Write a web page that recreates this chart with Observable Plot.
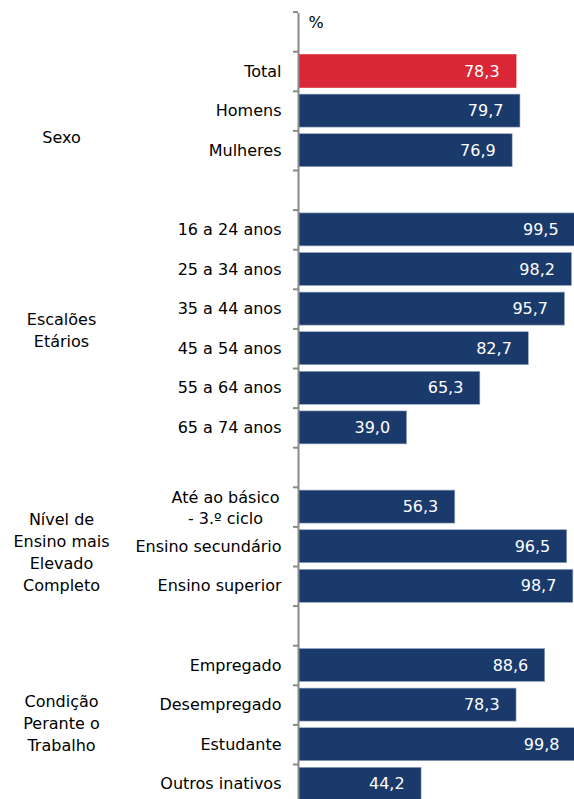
<!DOCTYPE html>
<html>
<head>
<meta charset="utf-8">
<script src="https://cdn.jsdelivr.net/npm/d3@7"></script>
<script src="https://cdn.jsdelivr.net/npm/@observablehq/plot@0.6"></script>
<style>
  html, body { margin: 0; padding: 0; background: white; overflow: hidden; }
</style>
</head>
<body>
<div id="chart"></div>
<script>
// ---- data ----
const categories = [
  "Total", "Homens", "Mulheres",
  "16 a 24 anos", "25 a 34 anos", "35 a 44 anos", "45 a 54 anos", "55 a 64 anos", "65 a 74 anos",
  "Até ao básico\n- 3.º ciclo", "Ensino secundário", "Ensino superior",
  "Empregado", "Desempregado", "Estudante", "Outros inativos"
];
const values = [78.3, 79.7, 76.9, 99.5, 98.2, 95.7, 82.7, 65.3, 39.0, 56.3, 96.5, 98.7, 88.6, 78.3, 99.8, 44.2];
const groupOf = [0, 0, 0, 1, 1, 1, 1, 1, 1, 2, 2, 2, 3, 3, 3, 3];
const groups = ["Sexo", "Escalões\nEtários", "Nível de\nEnsino mais\nElevado\nCompleto", "Condição\nPerante o\nTrabalho"];
const unitLabel = "%";

// ---- build slots (header + rows + blank gaps between groups) ----
const slots = ["__header"];
categories.forEach((c, i) => {
  if (i > 0 && groupOf[i] !== groupOf[i - 1]) slots.push("__gap" + groupOf[i]);
  slots.push(c);
});
const rows = categories.map((c, i) => ({key: c, value: values[i], group: groupOf[i], idx: i}));

const RED = "#DA2738", BLUE = "#1B3A6C", AXIS = "#8a8a8a";
const yTop = 11.6, bw = 39.6;
const fmt = v => d3.format(".1f")(v).replace(".", ",");

// group label marks: centered on the group's rows, small per-group nudges
const nudge = [25, 0.5, 4.5, -2.5];
const groupMarks = groups.map((g, gi) => {
  const members = rows.filter(r => r.group === gi);
  const dy = (members.length - 1) / 2 * bw + nudge[gi];
  return Plot.text([g], {
    x: () => 0, y: () => members[0].key, text: d => d,
    dx: -237, dy, textAnchor: "middle", lineHeight: 1.375, fill: "black"
  });
});

const chart = Plot.plot({
  width: 574,
  height: 799,
  marginLeft: 298,
  marginRight: 0,
  marginTop: 13,
  marginBottom: 0,
  x: {domain: [0, 100], range: [298, 576.5], axis: null},
  y: {domain: slots, range: [yTop, yTop + slots.length * bw], padding: 0, round: false, axis: null},
  style: {fontFamily: "'DejaVu Sans', Verdana, sans-serif", fontSize: "16px", background: "white", color: "black"},
  marks: [
    Plot.barX(rows, {
      x: "value", y: "key",
      fill: d => d.idx === 0 ? RED : BLUE,
      stroke: d => d.idx === 0 ? RED : "#9aabc4", strokeWidth: 0.6,
      insetTop: 3.3, insetBottom: 3.3, clip: true
    }),
    Plot.text(rows, {
      x: "value", y: "key", text: d => fmt(d.value),
      fill: "white", textAnchor: "end", dx: -17
    }),
    // category labels (single line, right aligned)
    Plot.text(rows.filter(r => !r.key.includes("\n")), {
      x: () => 0, y: "key", text: "key", textAnchor: "end", dx: -17, fill: "black"
    }),
    // wrapped category label (centered lines)
    Plot.text(rows.filter(r => r.key.includes("\n")), {
      x: () => 0, y: "key", text: "key", textAnchor: "middle", dx: -73, lineHeight: 1.3, fill: "black"
    }),
    ...groupMarks,
    // axis line and ticks at band boundaries
    Plot.ruleX([0], {stroke: AXIS, strokeWidth: 2}),
    Plot.ruleY(slots, {y: d => d, x1: () => 0, x2: () => 0, insetLeft: -5, dy: -bw / 2, stroke: AXIS, strokeWidth: 2}),
    Plot.text([unitLabel], {x: () => 0, y: () => "__header", text: d => d, textAnchor: "start", dx: 10, dy: -9.5, fill: "black"})
  ]
});
document.getElementById("chart").appendChild(chart);
</script>
</body>
</html>
